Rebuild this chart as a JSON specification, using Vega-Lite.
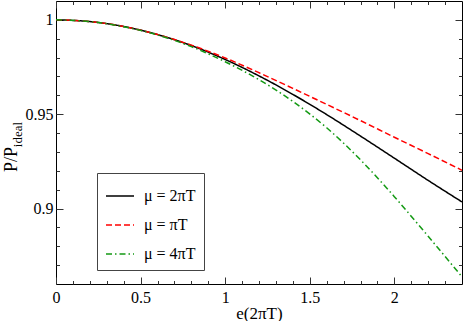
{
  "$schema": "https://vega.github.io/schema/vega-lite/v6.json",
  "width": 406,
  "height": 283,
  "autosize": {"type": "none"},
  "padding": {"left": 56, "top": 1, "right": 1, "bottom": 37},
  "background": "white",
  "config": {
    "view": {"stroke": "#000", "strokeWidth": 1},
    "axis": {
      "labelFont": "Liberation Serif, Times New Roman, serif",
      "titleFont": "Liberation Serif, Times New Roman, serif",
      "labelFontSize": 16,
      "titleFontSize": 17,
      "titleFontWeight": "normal",
      "labelColor": "#000",
      "titleColor": "#000",
      "grid": false,
      "domain": false,
      "tickColor": "#333",
      "tickWidth": 1
    },
    "legend": {
      "orient": "none",
      "legendX": 41,
      "legendY": 172,
      "strokeColor": "#444",
      "fillColor": "white",
      "padding": 8,
      "symbolType": "stroke",
      "symbolSize": 784,
      "symbolStrokeWidth": 1.5,
      "labelFont": "Liberation Serif, Times New Roman, serif",
      "labelFontSize": 16,
      "labelColor": "#000",
      "labelOffset": 9,
      "rowPadding": 6
    }
  },
  "datasets": {
    "curves": [
      {"x": 0, "y": 1, "series": "μ = 2πT"},
      {"x": 0.2, "y": 0.9991, "series": "μ = 2πT"},
      {"x": 0.4, "y": 0.9965, "series": "μ = 2πT"},
      {"x": 0.6, "y": 0.9922, "series": "μ = 2πT"},
      {"x": 0.8, "y": 0.9864, "series": "μ = 2πT"},
      {"x": 1.0, "y": 0.979, "series": "μ = 2πT"},
      {"x": 1.2, "y": 0.9703, "series": "μ = 2πT"},
      {"x": 1.4, "y": 0.9605, "series": "μ = 2πT"},
      {"x": 1.6, "y": 0.9498, "series": "μ = 2πT"},
      {"x": 1.8, "y": 0.9384, "series": "μ = 2πT"},
      {"x": 2.0, "y": 0.9267, "series": "μ = 2πT"},
      {"x": 2.2, "y": 0.9149, "series": "μ = 2πT"},
      {"x": 2.4, "y": 0.9035, "series": "μ = 2πT"},
      {"x": 0, "y": 1, "series": "μ = πT"},
      {"x": 0.2, "y": 0.9991, "series": "μ = πT"},
      {"x": 0.4, "y": 0.9965, "series": "μ = πT"},
      {"x": 0.6, "y": 0.9922, "series": "μ = πT"},
      {"x": 0.8, "y": 0.9866, "series": "μ = πT"},
      {"x": 1.0, "y": 0.9798, "series": "μ = πT"},
      {"x": 1.2, "y": 0.972, "series": "μ = πT"},
      {"x": 1.4, "y": 0.9637, "series": "μ = πT"},
      {"x": 1.6, "y": 0.9552, "series": "μ = πT"},
      {"x": 1.8, "y": 0.9466, "series": "μ = πT"},
      {"x": 2.0, "y": 0.9378, "series": "μ = πT"},
      {"x": 2.2, "y": 0.9291, "series": "μ = πT"},
      {"x": 2.4, "y": 0.9203, "series": "μ = πT"},
      {"x": 0, "y": 1, "series": "μ = 4πT"},
      {"x": 0.2, "y": 0.9991, "series": "μ = 4πT"},
      {"x": 0.4, "y": 0.9964, "series": "μ = 4πT"},
      {"x": 0.6, "y": 0.992, "series": "μ = 4πT"},
      {"x": 0.8, "y": 0.9858, "series": "μ = 4πT"},
      {"x": 1.0, "y": 0.9778, "series": "μ = 4πT"},
      {"x": 1.2, "y": 0.9683, "series": "μ = 4πT"},
      {"x": 1.4, "y": 0.9568, "series": "μ = 4πT"},
      {"x": 1.6, "y": 0.9428, "series": "μ = 4πT"},
      {"x": 1.8, "y": 0.9258, "series": "μ = 4πT"},
      {"x": 2.0, "y": 0.9063, "series": "μ = 4πT"},
      {"x": 2.2, "y": 0.8853, "series": "μ = 4πT"},
      {"x": 2.4, "y": 0.8638, "series": "μ = 4πT"}
    ]
  },
  "data": {"name": "curves"},
  "layer": [
    {
      "mark": {"type": "line", "interpolate": "monotone", "strokeWidth": 1.5, "clip": true},
      "encoding": {
        "x": {"field": "x", "type": "quantitative", "scale": {"domain": [0, 2.4], "nice": false, "zero": false},
          "axis": {"orient": "bottom", "values": [0, 0.5, 1, 1.5, 2], "format": "~g", "ticks": false, "labelPadding": 5, "labelFlush": false,
            "title": "e(2πT)", "titlePadding": 0}},
        "y": {"field": "y", "type": "quantitative", "scale": {"domain": [0.86, 1.01], "nice": false, "zero": false},
          "axis": {"orient": "left", "values": [0.9, 0.95, 1], "format": "~g", "ticks": false, "labelPadding": 3, "labelFlush": false,
            "title": "P/P", "titleFontSize": 18, "titleAngle": 270, "titleBaseline": "alphabetic", "titleAlign": "center", "titleX": -40, "titleY": 158}},
        "color": {"field": "series", "type": "nominal", "title": null,
          "scale": {"domain": ["μ = 2πT", "μ = πT", "μ = 4πT"], "range": ["#000000", "#ff0000", "#139913"]}},
        "strokeDash": {"field": "series", "type": "nominal", "title": null,
          "scale": {"domain": ["μ = 2πT", "μ = πT", "μ = 4πT"], "range": [[1, 0], [6, 3], [6, 3, 1.5, 3]]}}
      }
    },
    {
      "mark": {"type": "line", "opacity": 0},
      "encoding": {
        "x": {"field": "x", "type": "quantitative", "scale": {"domain": [0, 2.4], "nice": false, "zero": false},
          "axis": {"orient": "bottom", "values": [0, 0.5, 1, 1.5, 2], "labels": false, "tickSize": -7, "title": null}},
        "y": {"field": "y", "type": "quantitative", "scale": {"domain": [0.86, 1.01], "nice": false, "zero": false},
          "axis": {"orient": "left", "values": [0.9, 0.95, 1], "labels": false, "tickSize": -7, "title": null}}
      }
    },
    {
      "mark": {"type": "line", "opacity": 0},
      "encoding": {
        "x": {"field": "x", "type": "quantitative", "scale": {"domain": [0, 2.4], "nice": false, "zero": false},
          "axis": {"orient": "bottom", "values": [0.1, 0.2, 0.3, 0.4, 0.6, 0.7, 0.8, 0.9, 1.1, 1.2, 1.3, 1.4, 1.6, 1.7, 1.8, 1.9, 2.1, 2.2, 2.3], "labels": false, "tickSize": -3.5, "title": null}},
        "y": {"field": "y", "type": "quantitative", "scale": {"domain": [0.86, 1.01], "nice": false, "zero": false},
          "axis": {"orient": "left", "values": [0.87, 0.88, 0.89, 0.91, 0.92, 0.93, 0.94, 0.96, 0.97, 0.98, 0.99], "labels": false, "tickSize": -3.5, "title": null}}
      }
    },
    {
      "mark": {"type": "line", "opacity": 0},
      "encoding": {
        "x": {"field": "x", "type": "quantitative", "scale": {"domain": [0, 2.4], "nice": false, "zero": false},
          "axis": {"orient": "top", "values": [0, 0.5, 1, 1.5, 2], "labels": false, "tickSize": -7, "title": null}},
        "y": {"field": "y", "type": "quantitative", "scale": {"domain": [0.86, 1.01], "nice": false, "zero": false},
          "axis": {"orient": "right", "values": [0.9, 0.95, 1], "labels": false, "tickSize": -7, "title": null}}
      }
    },
    {
      "mark": {"type": "line", "opacity": 0},
      "encoding": {
        "x": {"field": "x", "type": "quantitative", "scale": {"domain": [0, 2.4], "nice": false, "zero": false},
          "axis": {"orient": "top", "values": [0.1, 0.2, 0.3, 0.4, 0.6, 0.7, 0.8, 0.9, 1.1, 1.2, 1.3, 1.4, 1.6, 1.7, 1.8, 1.9, 2.1, 2.2, 2.3], "labels": false, "tickSize": -3.5, "title": null}},
        "y": {"field": "y", "type": "quantitative", "scale": {"domain": [0.86, 1.01], "nice": false, "zero": false},
          "axis": {"orient": "right", "values": [0.87, 0.88, 0.89, 0.91, 0.92, 0.93, 0.94, 0.96, 0.97, 0.98, 0.99], "labels": false, "tickSize": -3.5, "title": null}}
      }
    },
    {
      "mark": {"type": "line", "opacity": 0},
      "encoding": {
        "x": {"field": "x", "type": "quantitative", "scale": {"domain": [0, 2.4], "nice": false, "zero": false}, "axis": null},
        "y": {"field": "y", "type": "quantitative", "scale": {"domain": [0.86, 1.01], "nice": false, "zero": false},
          "axis": {"orient": "left", "labels": false, "ticks": false, "title": "ideal", "titleFontSize": 13, "titleAngle": 270, "titleBaseline": "alphabetic", "titleAlign": "center", "titleX": -35, "titleY": 133}}
      }
    }
  ],
  "resolve": {"axis": {"x": "independent", "y": "independent"}}
}
